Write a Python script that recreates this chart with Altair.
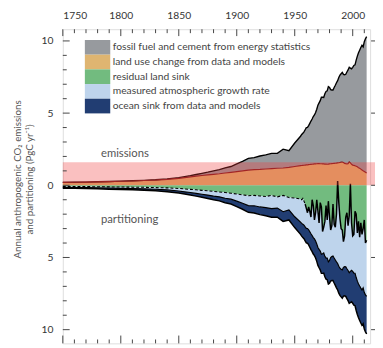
import altair as alt
import pandas as pd

years = [1750, 1760, 1770, 1780, 1790, 1800, 1810, 1820, 1830, 1840, 1850,
         1855, 1860, 1865, 1870, 1875, 1880, 1885, 1890, 1895, 1900, 1905,
         1910, 1915, 1920, 1925, 1930, 1935, 1940, 1945, 1950, 1955,
         1956, 1957, 1958, 1959, 1960, 1961, 1962, 1963, 1964, 1965,
         1966, 1967, 1968, 1969, 1970, 1971, 1972, 1973, 1974, 1975,
         1976, 1977, 1978, 1979, 1980, 1981, 1982, 1983, 1984, 1985,
         1986, 1987, 1988, 1989, 1990, 1991, 1992, 1993, 1994, 1995,
         1996, 1997, 1998, 1999, 2000, 2001, 2002, 2003, 2004, 2005,
         2006, 2007, 2008, 2009, 2010, 2011, 2012]

fossil = [0.003, 0.003, 0.004, 0.005, 0.007, 0.008, 0.011, 0.014, 0.024, 0.033, 0.054,
          0.07, 0.09, 0.12, 0.15, 0.19, 0.24, 0.28, 0.36, 0.40, 0.53, 0.66,
          0.82, 0.84, 0.93, 0.98, 1.05, 1.03, 1.30, 1.16, 1.63, 2.04,
          2.15, 2.23, 2.31, 2.45, 2.58, 2.59, 2.70, 2.85, 3.00, 3.13,
          3.29, 3.39, 3.56, 3.78, 4.05, 4.21, 4.37, 4.61, 4.62, 4.60,
          4.87, 5.03, 5.08, 5.37, 5.30, 5.14, 5.10, 5.09, 5.25, 5.40,
          5.56, 5.70, 5.91, 6.05, 6.13, 6.21, 6.10, 6.13, 6.19, 6.36,
          6.49, 6.56, 6.57, 6.62, 6.77, 6.92, 6.99, 7.35, 7.67, 7.96,
          8.18, 8.42, 8.64, 8.59, 9.00, 9.25, 9.45]

land_use = [0.20, 0.21, 0.22, 0.24, 0.26, 0.28, 0.30, 0.33, 0.36, 0.41, 0.48,
            0.53, 0.58, 0.63, 0.68, 0.72, 0.76, 0.80, 0.85, 0.90, 0.95, 1.00,
            1.05, 1.08, 1.10, 1.13, 1.16, 1.18, 1.20, 1.24, 1.30, 1.36,
            1.37, 1.38, 1.39, 1.40, 1.41, 1.42, 1.43, 1.44, 1.45, 1.46,
            1.47, 1.48, 1.48, 1.49, 1.50, 1.50, 1.49, 1.49, 1.48, 1.48,
            1.47, 1.47, 1.46, 1.47, 1.48, 1.49, 1.50, 1.51, 1.52, 1.53,
            1.54, 1.55, 1.56, 1.58, 1.60, 1.61, 1.58, 1.52, 1.50, 1.49,
            1.50, 1.62, 1.55, 1.45, 1.40, 1.38, 1.35, 1.32, 1.28, 1.22,
            1.18, 1.12, 1.06, 1.00, 0.95, 0.90, 0.85]

land_sink = [0.08, 0.08, 0.09, 0.10, 0.11, 0.12, 0.13, 0.14, 0.16, 0.18, 0.22,
             0.25, 0.28, 0.31, 0.35, 0.38, 0.42, 0.46, 0.50, 0.55, 0.60, 0.66,
             0.72, 0.70, 0.74, 0.78, 0.70, 0.80, 0.70, 0.85, 0.88, 0.95,
             1.00, 0.90, 1.10, 1.3, 1.6, 1.9, 1.5, 1.8, 2.2, 1.0,
             1.4, 2.4, 1.9, 1.0, 1.8, 2.6, 1.2, 1.5, 3.2, 2.9,
             2.5, 1.4, 2.4, 1.1, 2.2, 3.1, 2.8, 1.3, 2.7, 2.9,
             2.0, -0.3, 1.2, 2.3, 3.0, 3.1, 3.9, 3.5, 2.2, 1.9,
             2.8, 2.1, -0.1, 2.6, 3.5, 3.4, 1.8, 2.0, 3.3, 2.5,
             3.6, 2.6, 3.4, 3.0, 2.4, 4.0, 3.8]

atmosphere = [0.063, 0.073, 0.064, 0.075, 0.077, 0.088, 0.091, 0.104, 0.114, 0.143, 0.174,
              0.20, 0.22, 0.25, 0.27, 0.30, 0.33, 0.34, 0.40, 0.41, 0.50, 0.58,
              0.69, 0.72, 0.76, 0.77, 0.91, 0.78, 1.13, 0.85, 1.30, 1.60,
              1.64, 1.80, 1.66, 1.58, 1.39, 1.09, 1.58, 1.42, 1.16, 2.48,
              2.22, 1.31, 1.96, 3.06, 2.51, 1.84, 3.36, 3.27, 1.54, 1.79,
              2.42, 3.64, 2.64, 4.20, 3.00, 1.91, 2.14, 3.60, 2.34, 2.27,
              3.30, 5.72, 4.41, 3.44, 2.81, 2.76, 1.78, 2.13, 3.45, 3.88,
              3.10, 3.96, 6.06, 3.29, 2.47, 2.68, 4.29, 4.39, 3.34, 4.33,
              3.38, 4.52, 3.85, 4.10, 5.03, 3.59, 3.90]

ocean = [0.06, 0.06, 0.07, 0.07, 0.08, 0.08, 0.09, 0.10, 0.11, 0.12, 0.14,
         0.15, 0.17, 0.19, 0.21, 0.23, 0.25, 0.28, 0.31, 0.34, 0.38, 0.42,
         0.46, 0.50, 0.53, 0.56, 0.60, 0.63, 0.67, 0.70, 0.75, 0.85,
         0.88, 0.91, 0.94, 0.97, 1.00, 1.02, 1.05, 1.07, 1.09, 1.11,
         1.14, 1.16, 1.18, 1.21, 1.24, 1.27, 1.30, 1.33, 1.36, 1.39,
         1.42, 1.46, 1.50, 1.54, 1.58, 1.62, 1.66, 1.70, 1.73, 1.76,
         1.80, 1.83, 1.86, 1.89, 1.92, 1.96, 2.00, 2.02, 2.04, 2.07,
         2.09, 2.12, 2.16, 2.18, 2.20, 2.22, 2.25, 2.28, 2.31, 2.35,
         2.38, 2.42, 2.45, 2.49, 2.52, 2.56, 2.60]

categories = ["fossil fuel and cement from energy statistics",
              "land use change from data and models",
              "residual land sink",
              "measured atmospheric growth rate",
              "ocean sink from data and models"]
colors = ["#979a9e", "#dfb571", "#72bb7f", "#bed4ec", "#213d72"]

x_major = [1750, 1800, 1850, 1900, 1950, 2000]
x_minor = [1760, 1770, 1780, 1790, 1810, 1820, 1830, 1840, 1860, 1870, 1880,
           1890, 1910, 1920, 1930, 1940, 1960, 1970, 1980, 1990, 2010]
y_major = [-10, -5, 0, 5, 10]
y_minor = [-9, -8, -7, -6, -4, -3, -2, -1, 1, 2, 3, 4, 6, 7, 8, 9]
band = [0, 1.6]
notes = ["emissions", "partitioning"]

W, H = 314, 321
FONT = "Lato"

df = pd.DataFrame(dict(year=years, ff=fossil, luc=land_use, land=land_sink,
                       atm=atmosphere, ocean=ocean))

xs = alt.Scale(domain=[1750, 2015], nice=False, zero=False)
ys = alt.Scale(domain=[-10.95, 10.81], nice=False, zero=False)
cs = alt.Scale(domain=categories, range=colors)

xaxis = alt.Axis(orient="top", values=x_major, format="d", ticks=False, domain=False,
                 grid=False, labelPadding=9, labelFontSize=10.5, labelColor="#333",
                 labelFont=FONT)
yaxis = alt.Axis(values=y_major, labelExpr="abs(datum.value)", ticks=False, domain=False,
                 grid=False, labelPadding=10, labelFontSize=10.5, labelColor="#333",
                 labelFont=FONT, titleFont=FONT, titleFontSize=10, titleColor="#555",
                 titleFontWeight="normal", titlePadding=7, titleLineHeight=12, titleY=153)
ytitle = ["Annual anthropogenic CO\u2082 emissions", "and partitioning (PgC yr\u207b\u00b9)"]

leg = alt.Legend(title=None, orient="none", legendX=28, legendY=11,
                 symbolType="M-1.73,-1H1.73V1H-1.73Z", symbolSize=225,
                 symbolStrokeWidth=0, symbolOpacity=1, rowPadding=0, labelOffset=8,
                 labelFontSize=10.5, labelFont=FONT, labelColor="#444", padding=0,
                 labelLimit=400)


def X(f="year"):
    return alt.X(f"{f}:Q", scale=xs, axis=xaxis, title=None)


def Y(f):
    return alt.Y(f"{f}:Q", scale=ys, axis=yaxis, title=ytitle, stack=None)


base = alt.Chart(df).transform_calculate(
    zero="0",
    tot="datum.luc + datum.ff",
    lb="-datum.land",
    ab="-datum.land - datum.atm",
    ob="-datum.land - datum.atm - datum.ocean",
)


def area(top, bottom, i):
    return base.transform_calculate(cat=f"'{categories[i]}'").mark_area(
        interpolate="linear", opacity=1).encode(
        x=X(), y=Y(top), y2=alt.Y2(f"{bottom}:Q"),
        color=alt.Color("cat:N", scale=cs, legend=leg),
    )


areas = [
    area("luc", "zero", 1),
    area("tot", "luc", 0),
    area("zero", "lb", 2),
    area("lb", "ab", 3),
    area("ab", "ob", 4),
]

lines = [
    base.mark_line(color="black", strokeWidth=1.4).encode(x=X(), y=Y("tot")),
    base.mark_line(color="#7d1b1b", strokeWidth=1.2).encode(x=X(), y=Y("luc")),
    base.transform_filter("datum.year <= 1959").mark_line(
        color="black", strokeWidth=1.1, strokeDash=[3, 2]).encode(x=X(), y=Y("lb")),
    base.transform_filter("datum.year >= 1959").mark_line(
        color="black", strokeWidth=1.5).encode(x=X(), y=Y("lb")),
    base.mark_line(color="black", strokeWidth=1.2).encode(x=X(), y=Y("ab")),
    base.mark_line(color="black", strokeWidth=1.5).encode(x=X(), y=Y("ob")),
]

band_layer = alt.Chart(pd.DataFrame({"lo": [band[0]], "hi": [band[1]]})).mark_rect(
    color="#ee3b3b", opacity=0.32).encode(
    x=alt.value(0), x2=alt.value(W + 6), y=Y("hi"), y2=alt.Y2("lo:Q"))

tick_color = "#444"
ymaj = alt.Chart(pd.DataFrame({"v": y_major}))
ymin = alt.Chart(pd.DataFrame({"v": y_minor}))
xmaj = alt.Chart(pd.DataFrame({"v": x_major}))
xmin = alt.Chart(pd.DataFrame({"v": x_minor}))
ticks = [
    ymaj.mark_rule(color=tick_color).encode(y=Y("v"), x=alt.value(0), x2=alt.value(7)),
    ymin.mark_rule(color=tick_color).encode(y=Y("v"), x=alt.value(0), x2=alt.value(4)),
    ymaj.mark_rule(color=tick_color).encode(y=Y("v"), x=alt.value(W + 1), x2=alt.value(W + 5)),
    xmaj.mark_rule(color=tick_color).encode(x=X("v"), y=alt.value(0), y2=alt.value(7)),
    xmin.mark_rule(color=tick_color).encode(x=X("v"), y=alt.value(0), y2=alt.value(4)),
    xmaj.mark_rule(color=tick_color).encode(x=X("v"), y=alt.value(H), y2=alt.value(H - 8)),
    xmin.mark_rule(color=tick_color).encode(x=X("v"), y=alt.value(H), y2=alt.value(H - 4)),
]

txt_style = dict(align="left", baseline="middle", fontSize=11.5, font=FONT, color="#555")
texts = [
    alt.Chart(pd.DataFrame({"t": [notes[0]]})).mark_text(**txt_style).encode(
        x=alt.value(39), y=alt.value(128), text="t:N"),
    alt.Chart(pd.DataFrame({"t": [notes[1]]})).mark_text(**txt_style).encode(
        x=alt.value(39), y=alt.value(195), text="t:N"),
]

chart = alt.layer(*areas, *lines, band_layer, *ticks, *texts).properties(
    width=W, height=H,
    padding={"left": 56, "top": 18, "right": 5, "bottom": 0},
    autosize=alt.AutoSizeParams(type="none"),
).configure_view(stroke="#333", strokeWidth=1).configure(background="white")

chart.save("out.html", embed_options={"renderer": "svg", "actions": False})
